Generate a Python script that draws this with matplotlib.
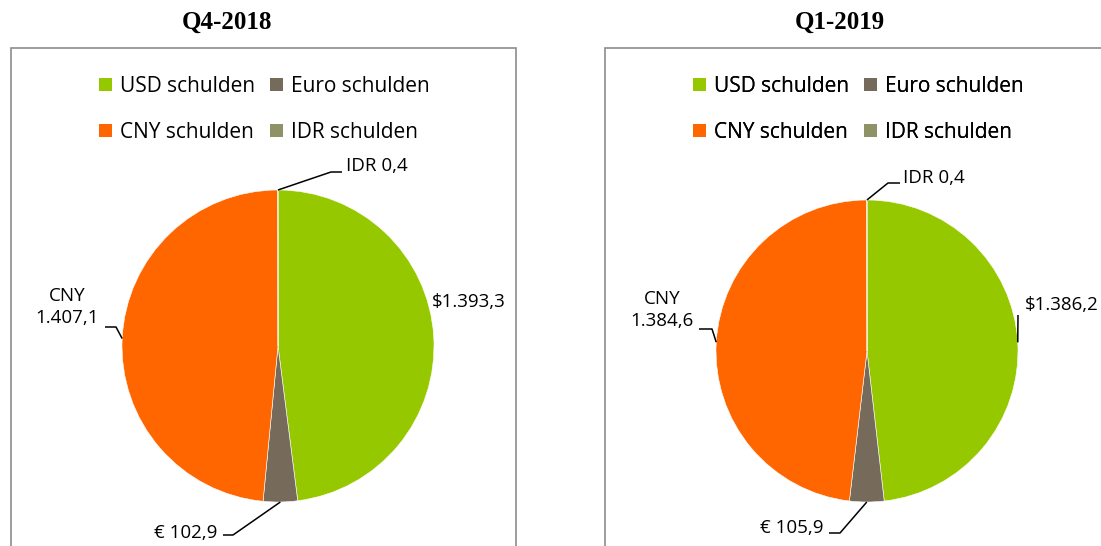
import numpy as np
import matplotlib.pyplot as plt
from matplotlib.patches import Rectangle, Patch

categories = ['USD schulden', 'Euro schulden', 'CNY schulden', 'IDR schulden']
colors = ['#96C800', '#766A5B', '#FF6600', '#8F9266']
titles = ['Q4-2018', 'Q1-2019']
q4_2018 = [1393.3, 102.9, 1407.1, 0.4]
q1_2019 = [1386.2, 105.9, 1384.6, 0.4]
label_fmt = ['${}', '€ {}', 'CNY\n{}', 'IDR {}']

plt.rcParams['font.family'] = ['Open Sans', 'DejaVu Sans']

W, H = 1101, 546


def fmt(v):
    # 1393.3 -> 1.393,3
    s = f'{v:,.1f}'
    return s.replace(',', 'X').replace('.', ',').replace('X', '.')


def P(x, y):
    # pixel coords (top-left origin) -> data coords
    return x, H - y


# layout per panel: pie centre/radius, box, title, legend, label placement
panels = [
    dict(values=q4_2018, title=titles[0], cx=278, cy=346, r=156,
         box=(10.5, 48, 505.5), title_x=227, leg=(99, 76),
         labels=[((432, 302), 'left', []),
                 ((217, 533), 'right', [(233, 535), (223, 535)]),
                 ((67, 307), 'center', [(116, 327), (105, 327)]),
                 ((346, 166), 'left', [(331, 172), (342, 172)])]),
    dict(values=q1_2019, title=titles[1], cx=867, cy=351, r=151,
         box=(605, 48, 520), title_x=840, leg=(693, 76),
         labels=[((1025, 305), 'left', [(1018, 315)]),
                 ((823, 528), 'right', [(840, 533), (829, 533)]),
                 ((662, 310), 'center', [(712, 329), (699, 329)]),
                 ((903, 178), 'left', [(888, 183), (900, 183)])]),
]

fig = plt.figure(figsize=(W / 100, H / 100), dpi=100)
ax = fig.add_axes([0, 0, 1, 1])

# legend fills column-wise, so reorder to read row-wise
order = [0, 2, 1, 3]
handles = [Patch(facecolor=colors[i], edgecolor='none') for i in order]
leg_labels = [categories[i] for i in order]

for p in panels:
    bx, by, bw = p['box']
    ax.add_patch(Rectangle(P(bx, by + 600), bw, 600, fill=False,
                           edgecolor='#8C8C8C', lw=1.2, clip_on=False))
    ax.text(*P(p['title_x'], 22), p['title'], ha='center', va='center',
            fontsize=18, fontweight='bold', family='Liberation Serif')

    wedges, _ = ax.pie(p['values'], colors=colors, startangle=90,
                       counterclock=False, center=P(p['cx'], p['cy']),
                       radius=p['r'], wedgeprops=dict(edgecolor='white', lw=0.4))

    for w, v, f, (pos, ha, pts) in zip(wedges, p['values'], label_fmt, p['labels']):
        mid = np.deg2rad((w.theta1 + w.theta2) / 2)
        ax0 = p['cx'] + p['r'] * np.cos(mid)
        ay0 = H - p['cy'] + p['r'] * np.sin(mid)
        if pts:
            xs = [ax0] + [q[0] for q in pts]
            ys = [ay0] + [H - q[1] for q in pts]
            ax.plot(xs, ys, color='black', lw=1.1, solid_capstyle='butt')
        ax.text(*P(*pos), f.format(fmt(v)), ha=ha, va='center',
                fontsize=13.5, linespacing=1.35, multialignment='center')

    ax.legend(handles, leg_labels, ncol=2, loc='upper left',
              bbox_to_anchor=P(*p['leg']), bbox_transform=ax.transData,
              frameon=False, fontsize=15, handlelength=0.62, handleheight=0.62,
              handletextpad=0.4, columnspacing=0.7, labelspacing=1.2,
              borderpad=0, borderaxespad=0)
    ax.add_artist(ax.get_legend())

ax.set_xlim(0, W)
ax.set_ylim(0, H)
ax.set_aspect('equal')
ax.axis('off')

fig.savefig('out.png', dpi=100)
